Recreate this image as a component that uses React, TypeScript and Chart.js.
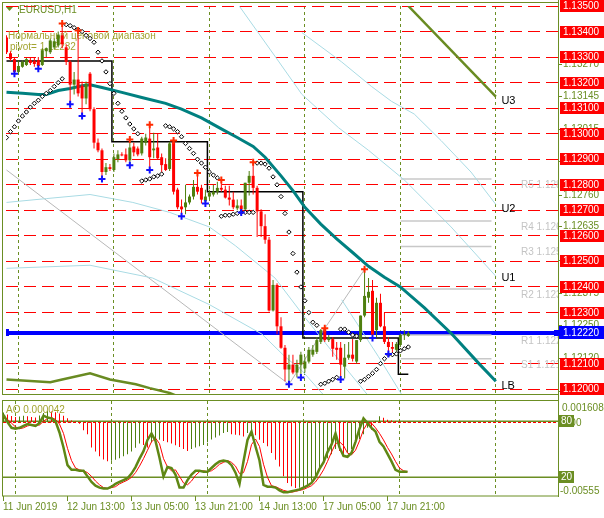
import React, { useEffect, useRef } from "react";
import { Chart, registerables } from "chart.js";

Chart.register(...registerables);

// ---------------- data ----------------
const opens = [1.13377,1.13315,1.13292,1.13242,1.13262,1.13269,1.13288,1.13285,1.13288,1.13269,
1.13323,1.13319,1.13338,1.13346,1.13385,1.13338,1.13281,1.13192,1.13212,1.13188,
1.13138,1.13235,1.13096,1.12965,1.12935,1.12850,1.12869,1.12858,1.12900,1.12919,
1.12919,1.12896,1.12950,1.12942,1.12923,1.12965,1.12981,1.12935,1.12946,1.12908,
1.12881,1.12862,1.12969,1.12781,1.12715,1.12712,1.12731,1.12754,1.12792,1.12788,
1.12735,1.12754,1.12762,1.12773,1.12788,1.12781,1.12750,1.12742,1.12708,1.12719,
1.12704,1.12808,1.12835,1.12788,1.12696,1.12638,1.12585,1.12308,1.12408,1.12246,
1.12162,1.12077,1.12096,1.12065,1.12096,1.12081,1.12108,1.12135,1.12146,1.12185,
1.12235,1.12192,1.12196,1.12162,1.12162,1.12088,1.12123,1.12135,1.12108,1.12192,
1.12288,1.12358,1.12385,1.12231,1.12338,1.12246,1.12185,1.12165,1.12154,1.12173,
1.12212,1.12208];
const highs = [1.13385,1.13323,1.13300,1.13288,1.13288,1.13296,1.13300,1.13300,1.13300,1.13335,
1.13338,1.13373,1.13373,1.13400,1.13431,1.13350,1.13288,1.13242,1.13404,1.13204,
1.13204,1.13242,1.13104,1.12981,1.12942,1.12885,1.12881,1.12923,1.12935,1.12927,
1.12942,1.12977,1.12965,1.12950,1.12988,1.13000,1.13035,1.13004,1.13000,1.12923,
1.12904,1.12969,1.12973,1.12788,1.12742,1.12800,1.12762,1.12819,1.12846,1.12800,
1.12781,1.12781,1.12800,1.12812,1.12819,1.12796,1.12796,1.12773,1.12742,1.12742,
1.12808,1.12854,1.12888,1.12796,1.12704,1.12685,1.12596,1.12427,1.12415,1.12281,
1.12173,1.12135,1.12135,1.12115,1.12146,1.12127,1.12165,1.12173,1.12204,1.12235,
1.12238,1.12212,1.12204,1.12185,1.12185,1.12177,1.12185,1.12196,1.12192,1.12288,
1.12469,1.12435,1.12427,1.12358,1.12373,1.12300,1.12204,1.12185,1.12185,1.12219,
1.12231,1.12227];
const lows = [1.13312,1.13285,1.13235,1.13238,1.13258,1.13265,1.13269,1.13262,1.13254,1.13265,
1.13300,1.13312,1.13331,1.13338,1.13335,1.13269,1.13115,1.13154,1.13146,1.13069,
1.13115,1.13088,1.12942,1.12927,1.12823,1.12838,1.12854,1.12850,1.12888,1.12912,
1.12888,1.12877,1.12912,1.12912,1.12915,1.12954,1.12858,1.12904,1.12900,1.12846,
1.12854,1.12854,1.12762,1.12704,1.12677,1.12685,1.12723,1.12742,1.12762,1.12727,
1.12727,1.12746,1.12754,1.12762,1.12773,1.12746,1.12719,1.12704,1.12700,1.12692,
1.12696,1.12758,1.12762,1.12596,1.12596,1.12569,1.12304,1.12304,1.12215,1.12158,
1.12031,1.12019,1.12058,1.12046,1.12046,1.12065,1.12100,1.12127,1.12138,1.12177,
1.12185,1.12185,1.12127,1.12115,1.12038,1.12042,1.12115,1.12108,1.12100,1.12185,
1.12281,1.12338,1.12200,1.12204,1.12242,1.12177,1.12138,1.12138,1.12146,1.12165,
1.12192,1.12204];
const closes = [1.13319,1.13292,1.13242,1.13265,1.13281,1.13292,1.13277,1.13273,1.13265,1.13327,
1.13335,1.13365,1.13362,1.13388,1.13350,1.13281,1.13192,1.13212,1.13158,1.13138,
1.13196,1.13096,1.12965,1.12935,1.12850,1.12869,1.12862,1.12908,1.12919,1.12915,
1.12896,1.12946,1.12927,1.12919,1.12981,1.12985,1.12908,1.12942,1.12904,1.12877,
1.12858,1.12962,1.12773,1.12712,1.12704,1.12731,1.12754,1.12792,1.12773,1.12742,
1.12754,1.12769,1.12773,1.12788,1.12781,1.12750,1.12742,1.12712,1.12719,1.12704,
1.12808,1.12835,1.12788,1.12696,1.12638,1.12585,1.12308,1.12408,1.12246,1.12162,
1.12077,1.12096,1.12065,1.12096,1.12135,1.12108,1.12154,1.12154,1.12192,1.12231,
1.12192,1.12204,1.12158,1.12154,1.12096,1.12123,1.12135,1.12119,1.12192,1.12288,
1.12365,1.12381,1.12212,1.12338,1.12246,1.12185,1.12165,1.12158,1.12177,1.12212,
1.12215,1.12219];

const sarValues = [1.12985,1.13008,1.13027,1.13050,1.13069,1.13085,1.13104,1.13119,1.13131,1.13146,1.13158,1.13169,1.13185,1.13200,1.13215,
1.13427,1.13423,1.13415,1.13408,1.13400,1.13385,1.13373,1.13358,1.13319,1.13285,1.13242,1.13196,1.13158,1.13119,1.13088,1.13062,1.13038,1.13019,1.13000,
1.12815,1.12819,1.12823,1.12831,1.12835,1.12842,
1.13031,1.13027,1.13019,1.13008,1.12988,1.12962,1.12942,1.12923,1.12900,1.12885,1.12869,1.12850,1.12838,1.12827,
1.12677,1.12681,1.12681,1.12685,1.12688,1.12692,1.12692,1.12692,1.12692,
1.12885,1.12885,1.12881,1.12865,1.12831,1.12800,1.12754,1.12688,1.12615,1.12531,1.12458,1.12400,1.12346,1.12300,1.12262,1.12250,
1.12019,1.12023,1.12031,1.12038,1.12046,
1.12235,1.12235,1.12223,1.12212,1.12208,
1.12031,1.12038,1.12050,1.12062,1.12077,1.12100,1.12119,1.12135,1.12135,1.12138,1.12150,1.12158,1.12165];

const fractalUpBars = [14, 18, 31, 36, 42, 48, 54, 62, 80, 90];
const fractalDownBars = [2, 8, 16, 19, 24, 31, 36, 44, 50, 59, 71, 74, 84, 92, 96];

const maBars = [0,4,8,10,13,16,19,21,24,29,34,40,44,49,54,58,62,65,69,72,75,79,83,87,91,95,99,105,112,119,123];
const maValues = [1.13162,1.13158,1.13154,1.13154,1.13169,1.13177,1.13188,1.13192,1.13181,1.13162,1.13142,1.13119,1.13096,1.13062,1.13019,1.12985,1.12950,1.12908,1.12835,1.12777,1.12712,1.12646,1.12588,1.12535,1.12481,1.12438,1.12400,1.12319,1.12215,1.12096,1.12031];

const pivotBars = [0, 26, 27, 50, 51, 74, 75, 98, 99, 101];
const pivotValues = [1.13285, 1.13285, 1.12969, 1.12969, 1.12773, 1.12773, 1.12200, 1.12200, 1.12058, 1.12058];

const u3Bars = [101, 123];
const u3Values = [1.13500, 1.13145];
const u2Bars = [74.25, 84.25, 91.75, 96.75, 102.5, 109.25, 116.75, 123];
const u2Values = [1.13396, 1.13281, 1.13185, 1.13127, 1.13077, 1.12973, 1.12850, 1.12723];
const u1Bars = [58.5, 68.5, 74.25, 83.5, 91, 100, 111.75, 123];
const u1Values = [1.13500, 1.13281, 1.13154, 1.13023, 1.12935, 1.12819, 1.12635, 1.12442];
const band1Bars = [0, 10, 21, 31.75, 41, 51, 57.5, 67.5, 75, 82.5, 90, 91.75];
const band1Values = [1.12731, 1.12746, 1.12762, 1.12731, 1.12692, 1.12635, 1.12562, 1.12435, 1.12281, 1.12135, 1.11992, 1.11958];
const band2Bars = [0, 21, 36.75, 51, 64.25, 70, 74.25, 79.25, 80.5];
const band2Values = [1.12473, 1.12485, 1.12435, 1.12331, 1.12215, 1.12127, 1.12073, 1.11985, 1.11965];
const band3Bars = [84.25, 93.5, 99.25, 100];
const band3Values = [1.12350, 1.12127, 1.11981, 1.11962];
const lowerBandBars = [0, 11, 14, 21, 26, 32.5, 36, 41, 45];
const lowerBandValues = [1.12038, 1.12027, 1.12038, 1.12062, 1.12038, 1.12019, 1.12004, 1.11985, 1.11960];
const zigzagBars = [0, 71, 80, 90];
const zigzagValues = [1.12858, 1.12019, 1.12238, 1.12469];

const levelNames = ["R5", "R4", "R3", "R2", "R1", "S1"];
const levelValues = [1.12823, 1.12658, 1.12558, 1.12392, 1.12212, 1.12119];
const levelFromBar = 99.1;
const levelToBar = 121.9;

const channelNames = ["U3", "U2", "U1", "LB"];
const channelLabelValues = [1.13130, 1.12704, 1.12435, 1.12012];
const channelLabelBar = 124.4;

const bidPrice = 1.1222;
const redLevels = [1.120, 1.121, 1.123, 1.124, 1.125, 1.126, 1.127, 1.128, 1.129, 1.130, 1.131, 1.132, 1.133, 1.134, 1.135];
const scaleLabels = [1.13270, 1.13145, 1.13015, 1.12890, 1.12760, 1.12635, 1.12505, 1.12375, 1.12250, 1.12120, 1.11990];
const gridBars = [3, 27, 51, 75, 99, 123];
const timeTickBars = [0, 16, 32, 48, 64, 80, 96];
const timeTickLabels = ["11 Jun 2019", "12 Jun 13:00", "13 Jun 05:00", "13 Jun 21:00", "14 Jun 13:00", "17 Jun 05:00", "17 Jun 21:00"];

const aoValues = [0.00075,0.00060,0.00048,0.00040,0.00044,0.00050,0.00046,0.00040,0.00036,0.00052,
0.00070,0.00088,0.00082,0.00076,0.00066,0.00050,0.00030,0.00014,0.00006,-0.00010,
-0.00060,-0.00090,-0.00190,-0.00220,-0.00256,-0.00280,-0.00294,-0.00290,-0.00282,-0.00270,
-0.00256,-0.00240,-0.00220,-0.00192,-0.00160,-0.00170,-0.00190,-0.00150,-0.00135,-0.00131,
-0.00140,-0.00150,-0.00160,-0.00172,-0.00185,-0.00200,-0.00215,-0.00200,-0.00190,-0.00180,
-0.00170,-0.00150,-0.00130,-0.00115,-0.00100,-0.00081,-0.00073,-0.00090,-0.00093,-0.00098,
-0.00106,-0.00081,-0.00068,-0.00098,-0.00131,-0.00156,-0.00181,-0.00231,-0.00282,-0.00332,
-0.00407,-0.00457,-0.00482,-0.00495,-0.00493,-0.00485,-0.00470,-0.00440,-0.00400,-0.00360,
-0.00310,-0.00270,-0.00240,-0.00200,-0.00215,-0.00250,-0.00230,-0.00200,-0.00160,-0.00125,
-0.00090,-0.00040,-0.00055,0.00010,0.00045,0.00035,0.00020,0.00014,0.00010,0.00007,
0.00005,0.000042];
const stochMain = [87,79,73,72,73,75,77,76,75,78,
86,84,83,80,68,52,33,28,28,27,
27,21,15,11,9,8,8,10,13,15,
17,19,24,31,40,48,60,67,59,41,
21,31,30,23,9,9,17,23,27,27,
26,26,30,34,37,38,37,33,25,13,
37,60,69,53,38,12,10,10,9,6,
4,4,5,6,7,9,11,14,20,29,
36,47,55,67,52,43,42,46,58,72,
83,78,73,69,58,53,45,37,28,26,
26,26];
const stochSignal = [84,82,78,74,72,73,75,76,76,76,
80,83,84,82,77,67,51,38,30,28,
27,25,21,16,12,9,8,9,10,13,
15,17,20,25,32,40,49,58,62,56,
40,31,27,28,21,14,12,16,22,26,
27,26,27,30,34,36,38,36,32,24,
25,37,55,61,53,34,20,11,10,8,
6,5,4,5,6,7,9,11,15,21,
28,37,47,56,58,54,46,44,49,59,
71,78,78,73,67,60,52,45,37,30,
27,26];
const stochLevels = [80, 20];
const aoMax = 0.001608;
const aoMin = -0.00555;
const aoLabel = "AO 0.000042";

// ---------------- styling ----------------
const OLIVE = "#6b8e23";
const BULL = "#4e7f0e";
const BEAR = "#ff0000";
const TEAL = "#008080";
const LIGHTBLUE = "#a9dbe4";
const FONT = "'Liberation Sans', Arial, sans-serif";
const TXT = "#a3a431";

const xMin = -0.125;
const xMax = 138.625;
const priceMin = 1.11981;
const priceMax = 1.135;

const pts = (bars: number[], vals: number[]) => bars.map((b, i) => ({ x: b, y: vals[i] }));
const lineDs = (data: any[], color: string, width: number, order: number, extra: any = {}) => ({
  type: "line",
  data,
  borderColor: color,
  borderWidth: width,
  pointRadius: 0,
  fill: false,
  tension: 0,
  order,
  clip: 0,
  ...extra,
});

const idx = opens.map((_, i) => i);
const candleColors = idx.map((i) => (closes[i] >= opens[i] ? BULL : BEAR));
const aoColors = aoValues.map((v, i) => (i === 0 || v > aoValues[i - 1] ? BULL : BEAR));

// ---------------- plugins ----------------
const mainBack = {
  id: "mainBack",
  beforeDatasetsDraw(chart: any) {
    const { ctx, chartArea: a, scales } = chart;
    const x = scales.x, y = scales.y;
    ctx.save();
    ctx.beginPath();
    ctx.rect(a.left, a.top, a.right - a.left, a.bottom - a.top);
    ctx.clip();
    ctx.lineWidth = 1;
    ctx.strokeStyle = OLIVE;
    ctx.setLineDash([3, 3]);
    for (const b of gridBars) {
      const px = Math.floor(x.getPixelForValue(b)) + 0.5;
      ctx.beginPath();
      ctx.moveTo(px, a.top);
      ctx.lineTo(px, a.bottom);
      ctx.stroke();
    }
    ctx.strokeStyle = "#ff0000";
    ctx.setLineDash([12, 6]);
    for (const v of redLevels) {
      const py = Math.floor(y.getPixelForValue(v)) + 0.5;
      ctx.beginPath();
      ctx.moveTo(a.left, py);
      ctx.lineTo(a.right, py);
      ctx.stroke();
    }
    ctx.setLineDash([]);
    ctx.font = `10px ${FONT}`;
    ctx.fillStyle = TXT;
    ctx.textBaseline = "middle";
    ctx.textAlign = "left";
    ctx.fillText("Нормальный ценовой диапазон", 8, 36);
    ctx.fillText("pivot= 1.12232", 10, 47);
    ctx.restore();
  },
};

const mainFront = {
  id: "mainFront",
  afterDatasetsDraw(chart: any) {
    const { ctx, chartArea: a, scales } = chart;
    const x = scales.x, y = scales.y;
    ctx.save();
    ctx.beginPath();
    ctx.rect(a.left, a.top, a.right - a.left, a.bottom - a.top);
    ctx.clip();
    ctx.font = `10px ${FONT}`;
    ctx.textAlign = "left";
    ctx.textBaseline = "top";
    ctx.fillStyle = "#c4c4c4";
    levelNames.forEach((n, i) => {
      ctx.fillText(`${n} ${levelValues[i].toFixed(4)}`, 521, y.getPixelForValue(levelValues[i]) + 1);
    });
    ctx.fillStyle = "#000";
    ctx.textBaseline = "middle";
    ctx.font = `11px ${FONT}`;
    channelNames.forEach((n, i) => {
      ctx.fillText(n, x.getPixelForValue(channelLabelBar), y.getPixelForValue(channelLabelValues[i]));
    });
    // blue handle on the bid line
    const by = y.getPixelForValue(bidPrice);
    ctx.fillStyle = "#0000ff";
    ctx.fillRect(2, Math.round(by) - 4, 7, 7);
    ctx.fillStyle = "#fff";
    ctx.fillRect(5, Math.round(by) - 1, 1, 1);
    ctx.restore();
  },
  afterDraw(chart: any) {
    const { ctx, chartArea: a, scales } = chart;
    const y = scales.y;
    ctx.save();
    ctx.strokeStyle = OLIVE;
    ctx.lineWidth = 1;
    ctx.strokeRect(2.5, 2.5, a.right - 2, a.bottom - 2);
    ctx.beginPath();
    ctx.moveTo(a.right + 0.5, 0);
    ctx.lineTo(a.right + 0.5, 400);
    ctx.stroke();
    // header
    ctx.fillStyle = OLIVE;
    ctx.beginPath();
    ctx.moveTo(6, 7);
    ctx.lineTo(13, 7);
    ctx.lineTo(9.5, 11);
    ctx.closePath();
    ctx.fill();
    ctx.font = `10px ${FONT}`;
    ctx.textBaseline = "middle";
    ctx.textAlign = "left";
    ctx.fillText("EURUSD,H1", 19, 10);
    // olive price-scale labels
    for (const v of scaleLabels) {
      const py = Math.floor(y.getPixelForValue(v)) + 0.5;
      ctx.strokeStyle = OLIVE;
      ctx.beginPath();
      ctx.moveTo(a.right, py);
      ctx.lineTo(a.right + 4, py);
      ctx.stroke();
      ctx.fillStyle = OLIVE;
      ctx.fillText(v.toFixed(5), 563, py);
    }
    // red level boxes
    for (const v of redLevels) {
      const py = Math.round(y.getPixelForValue(v));
      ctx.fillStyle = "#ff0000";
      ctx.fillRect(560, py - 6, 44, 12);
      ctx.fillStyle = "#ffffff";
      ctx.fillText(v.toFixed(5), 563, py + 0.5);
    }
    // bid box
    const by = Math.round(y.getPixelForValue(bidPrice));
    ctx.fillStyle = "#0000ff";
    ctx.fillRect(554, by - 3, 6, 6);
    ctx.fillRect(559, by - 7, 45, 13);
    ctx.fillStyle = "#ffffff";
    ctx.fillText(bidPrice.toFixed(5), 563, by);
    ctx.restore();
  },
};

const subPlugin = {
  id: "subPlugin",
  beforeDatasetsDraw(chart: any) {
    const { ctx, chartArea: a, scales } = chart;
    const x = scales.x, ao = scales.ao, st = scales.st;
    ctx.save();
    ctx.beginPath();
    ctx.rect(a.left, a.top, a.right - a.left, a.bottom - a.top);
    ctx.clip();
    ctx.lineWidth = 1;
    ctx.strokeStyle = OLIVE;
    ctx.setLineDash([3, 3]);
    for (const b of gridBars) {
      const px = Math.floor(x.getPixelForValue(b)) + 0.5;
      ctx.beginPath();
      ctx.moveTo(px, a.top);
      ctx.lineTo(px, a.bottom);
      ctx.stroke();
    }
    ctx.setLineDash([]);
    ctx.lineWidth = 1.5;
    for (const l of stochLevels) {
      const py = st.getPixelForValue(l);
      ctx.beginPath();
      ctx.moveTo(a.left, py);
      ctx.lineTo(a.right, py);
      ctx.stroke();
    }
    ctx.lineWidth = 1;
    ctx.strokeStyle = "#ff0000";
    ctx.setLineDash([3, 2]);
    const zy = Math.floor(ao.getPixelForValue(0)) + 0.5;
    ctx.beginPath();
    ctx.moveTo(a.left, zy);
    ctx.lineTo(a.right, zy);
    ctx.stroke();
    ctx.restore();
  },
  afterDraw(chart: any) {
    const { ctx, chartArea: a, scales } = chart;
    const x = scales.x, st = scales.st;
    ctx.save();
    ctx.strokeStyle = OLIVE;
    ctx.lineWidth = 1;
    ctx.strokeRect(2.5, 0.5, a.right - 2, a.bottom - 0.5);
    ctx.beginPath();
    ctx.moveTo(a.right + 0.5, 0);
    ctx.lineTo(a.right + 0.5, a.bottom + 1);
    ctx.stroke();
    ctx.font = `10px ${FONT}`;
    ctx.textBaseline = "middle";
    ctx.textAlign = "left";
    ctx.fillStyle = TXT;
    ctx.fillText(aoLabel, 6, 10);
    ctx.fillStyle = OLIVE;
    ctx.fillText(aoMax.toFixed(6), 562, 8);
    ctx.fillText("0.00", 562, 23);
    ctx.fillText(aoMin.toFixed(5), 560, 91);
    for (const l of stochLevels) {
      const py = Math.round(st.getPixelForValue(l));
      ctx.fillStyle = OLIVE;
      ctx.fillRect(559, py - 6, 15, 12);
      ctx.fillStyle = "#ffffff";
      ctx.fillText(String(l), 561, py + 0.5);
    }
    // time axis
    ctx.strokeStyle = OLIVE;
    ctx.fillStyle = OLIVE;
    timeTickBars.forEach((b, i) => {
      const px = Math.floor(x.getPixelForValue(b)) + 0.5;
      ctx.beginPath();
      ctx.moveTo(px, a.bottom);
      ctx.lineTo(px, a.bottom + 5);
      ctx.stroke();
      ctx.fillText(timeTickLabels[i], px - 0.5, 107);
    });
    ctx.restore();
  },
};

export default function App() {
  const mainRef = useRef<HTMLCanvasElement>(null);
  const subRef = useRef<HTMLCanvasElement>(null);

  useEffect(() => {
    const mainChart = new Chart(mainRef.current as HTMLCanvasElement, {
      type: "bar",
      data: {
        datasets: [
          lineDs(fractalUpBars.map((k) => ({ x: k, y: highs[k] })), "#ff2a00", 0, 0, {
            showLine: false, pointStyle: "cross", pointRadius: 3.5, pointBorderWidth: 2,
            pointBorderColor: "#ff2a00", pointBackgroundColor: "#ffb000",
          }),
          lineDs(fractalDownBars.map((k) => ({ x: k, y: lows[k] })), "#1010ff", 0, 0, {
            showLine: false, pointStyle: "cross", pointRadius: 3.5, pointBorderWidth: 2,
            pointBorderColor: "#1010ff", pointBackgroundColor: "#ff00ff",
          }),
          lineDs(idx.map((i) => ({ x: i, y: sarValues[i] })), "#000", 0, 1, {
            showLine: false, pointStyle: "rectRot", pointRadius: 2.2, pointBorderWidth: 1,
            pointBorderColor: "#000000", pointBackgroundColor: "#ffffff",
          }),
          {
            type: "bar",
            data: idx.map((i) => ({ x: i, y: [opens[i], closes[i]] })),
            backgroundColor: candleColors,
            borderWidth: 0,
            barThickness: 3,
            maxBarThickness: 3,
            minBarLength: 1,
            inflateAmount: 0,
            grouped: false,
            order: 2,
          },
          {
            type: "bar",
            data: idx.map((i) => ({ x: i, y: [lows[i], highs[i]] })),
            backgroundColor: candleColors,
            borderWidth: 0,
            barThickness: 1,
            maxBarThickness: 1,
            inflateAmount: 0,
            grouped: false,
            order: 3,
          },
          lineDs(pts(maBars, maValues), TEAL, 3, 4),
          lineDs(pts(u3Bars, u3Values), "#698b22", 2.5, 4),
          lineDs(pts(lowerBandBars, lowerBandValues), "#698b22", 2.5, 4),
          lineDs(pts(pivotBars, pivotValues), "#000000", 1.5, 5, { stepped: "middle" }),
          lineDs(pts(u1Bars, u1Values), LIGHTBLUE, 1, 6),
          lineDs(pts(u2Bars, u2Values), LIGHTBLUE, 1, 6),
          lineDs(pts(band1Bars, band1Values), LIGHTBLUE, 1, 6),
          lineDs(pts(band2Bars, band2Values), LIGHTBLUE, 1, 6),
          lineDs(pts(band3Bars, band3Values), LIGHTBLUE, 1, 6),
          lineDs(pts(zigzagBars, zigzagValues), "#b8b8b8", 1, 6),
          ...levelValues.map((v) =>
            lineDs([{ x: levelFromBar, y: v }, { x: levelToBar, y: v }], "#c8c8c8", 1.5, 7)
          ),
          lineDs([{ x: xMin, y: bidPrice }, { x: xMax, y: bidPrice }], "#0000ff", 4, 8),
        ] as any,
      },
      options: {
        responsive: false,
        animation: false,
        devicePixelRatio: 1,
        events: [],
        layout: { padding: { left: 3, right: 46, top: 3, bottom: 2 } },
        scales: {
          x: { type: "linear", min: xMin, max: xMax, offset: false, display: false },
          y: { type: "linear", min: priceMin, max: priceMax, display: false },
        },
        plugins: { legend: { display: false }, tooltip: { enabled: false } },
      } as any,
      plugins: [mainBack, mainFront],
    } as any);

    const subChart = new Chart(subRef.current as HTMLCanvasElement, {
      type: "bar",
      data: {
        datasets: [
          lineDs(idx.map((i) => ({ x: i, y: stochMain[i] })), "#5f8714", 2.5, 0, { yAxisID: "st" }),
          lineDs(idx.map((i) => ({ x: i, y: stochSignal[i] })), "#ff0000", 1, 1, { yAxisID: "st" }),
          {
            type: "bar",
            data: idx.map((i) => ({ x: i, y: [0, aoValues[i]] })),
            backgroundColor: aoColors,
            borderWidth: 0,
            barThickness: 1,
            maxBarThickness: 1,
            inflateAmount: 0,
            grouped: false,
            yAxisID: "ao",
            order: 2,
          },
        ] as any,
      },
      options: {
        responsive: false,
        animation: false,
        devicePixelRatio: 1,
        events: [],
        layout: { padding: { left: 3, right: 46, top: 1, bottom: 22 } },
        scales: {
          x: { type: "linear", min: xMin, max: xMax, offset: false, display: false },
          ao: { type: "linear", min: aoMin, max: aoMax, display: false },
          st: { type: "linear", min: 0, max: 101.7, display: false },
        },
        plugins: { legend: { display: false }, tooltip: { enabled: false } },
      } as any,
      plugins: [subPlugin],
    } as any);

    return () => {
      mainChart.destroy();
      subChart.destroy();
    };
  }, []);

  return (
    <div style={{ position: "absolute", left: 0, top: 0, width: 604, height: 518, background: "#ffffff", overflow: "hidden" }}>
      <canvas ref={mainRef} width={604} height={400} style={{ position: "absolute", left: 0, top: 0, width: 604, height: 400 }} />
      <canvas ref={subRef} width={604} height={118} style={{ position: "absolute", left: 0, top: 400, width: 604, height: 118 }} />
    </div>
  );
}
